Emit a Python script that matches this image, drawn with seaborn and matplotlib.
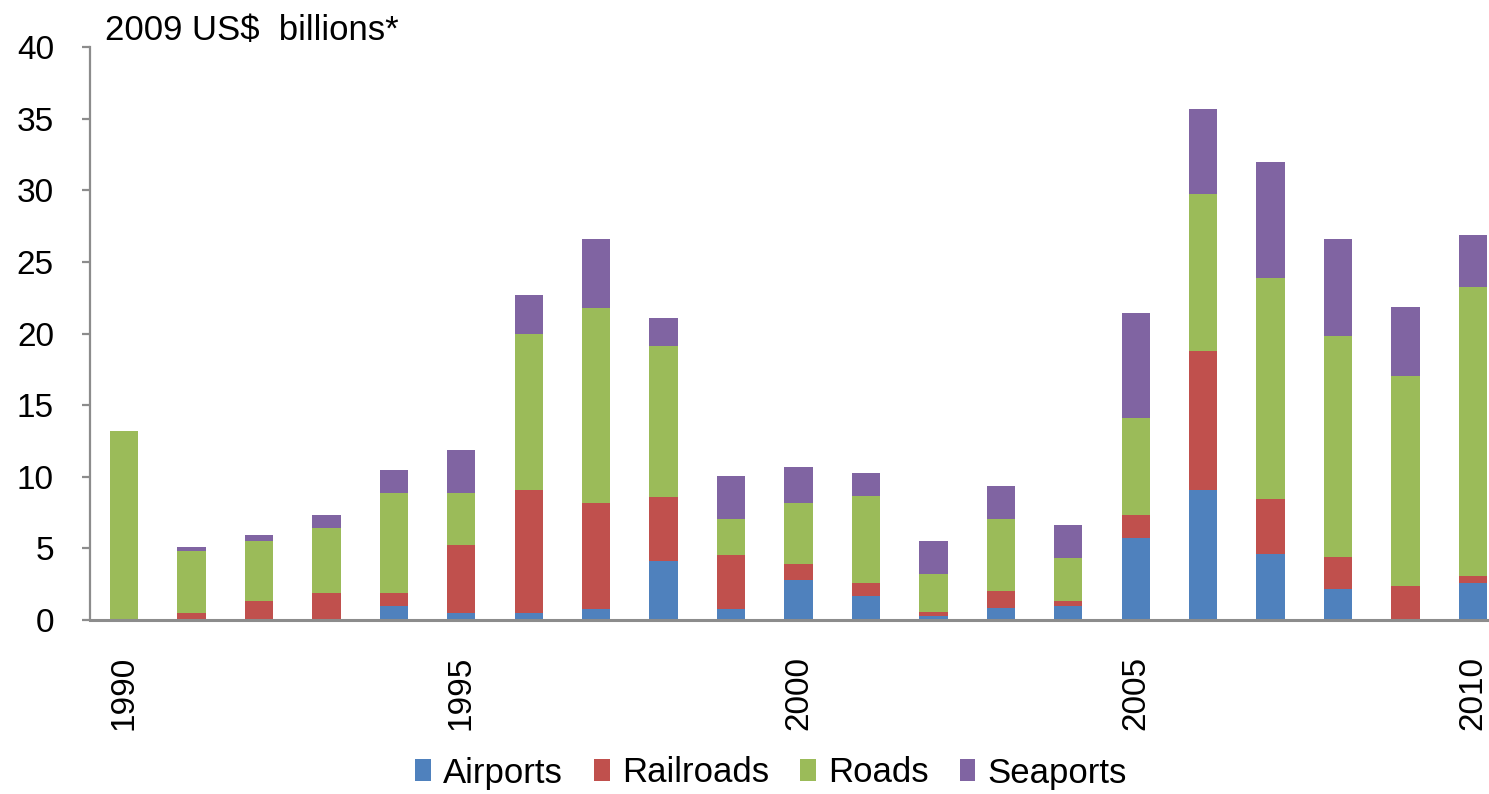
import numpy as np
import pandas as pd
import matplotlib.pyplot as plt
import seaborn as sns
from matplotlib.patches import Patch

# values (2009 US$ billions)
years = [str(y) for y in range(1990, 2011)]
airports = [0, 0, 0, 0, 1.0, 0.5, 0.5, 0.75, 4.1, 0.75, 2.8, 1.65, 0.3, 0.85, 0.95,
            5.7, 9.1, 4.6, 2.15, 0, 2.55]
railroads = [0, 0.5, 1.35, 1.85, 0.85, 4.75, 8.6, 7.45, 4.5, 3.8, 1.1, 0.9, 0.25, 1.2, 0.4,
             1.6, 9.7, 3.85, 2.25, 2.35, 0.5]
roads = [13.2, 4.3, 4.15, 4.55, 7.0, 3.65, 10.9, 13.6, 10.5, 2.5, 4.3, 6.1, 2.65, 5.0, 3.0,
         6.8, 10.95, 15.4, 15.4, 14.7, 20.2]
seaports = [0, 0.3, 0.45, 0.9, 1.65, 3.0, 2.7, 4.8, 2.0, 3.0, 2.5, 1.6, 2.3, 2.3, 2.3,
            7.3, 5.95, 8.15, 6.8, 4.8, 3.6]

series = ['Airports', 'Railroads', 'Roads', 'Seaports']
colors = ['#4F81BD', '#C0504D', '#9BBB59', '#8064A2']
tick_years = ['1990', '1995', '2000', '2005', '2010']

df = pd.DataFrame({'year': years, 'Airports': airports, 'Railroads': railroads,
                   'Roads': roads, 'Seaports': seaports})
# cumulative tops for the stacked look
cum = df[series].cumsum(axis=1)
cum['year'] = df['year']

sns.set_style("white")
plt.rcParams['font.family'] = ['Liberation Sans', 'DejaVu Sans']
plt.rcParams['text.color'] = 'black'

W, H = 1489, 794
fig = plt.figure(figsize=(W / 100, H / 100), dpi=100)
ax = fig.add_axes([90 / W, 1 - 620 / H, 1 - 90 / W, (620 - 47) / H])

# draw from the top layer down so each lower layer covers the one above
for name, color in reversed(list(zip(series, colors))):
    sns.barplot(data=cum, x='year', y=name, color=color, width=0.42,
                saturation=1, linewidth=0, ax=ax)

ax.set_ylim(0, 40)
ax.set_yticks(np.arange(0, 41, 5))
ax.set_xlim(-0.504, 20.237)
ax.set_xticks([years.index(y) for y in tick_years])
ax.set_xticklabels(tick_years, rotation=90)
ax.set_xlabel('')
ax.set_ylabel('')

spine_col = '#8c8c8c'
for s in ['top', 'right']:
    ax.spines[s].set_visible(False)
ax.spines['left'].set_color(spine_col)
ax.spines['left'].set_linewidth(1.6)
ax.spines['bottom'].set_color(spine_col)
ax.spines['bottom'].set_linewidth(2.2)

ax.tick_params(axis='y', which='major', left=True, length=6, width=1.6,
               color=spine_col, pad=20, labelsize=24, labelcolor='black')
ax.tick_params(axis='x', which='major', bottom=False, length=0, pad=26,
               labelsize=24, labelcolor='black')

fig.text(105 / W, 1 - 40 / H, '2009 US$  billions*', fontsize=25, color='black',
         va='baseline', ha='left')

handles = [Patch(facecolor=c, edgecolor='none') for c in colors]
leg = fig.legend(handles, series, loc='center', bbox_to_anchor=(771 / W, 1 - 773 / H),
                 ncol=4, frameon=False, fontsize=25, handlelength=0.45, handleheight=0.6,
                 handletextpad=0.35, columnspacing=0.9, borderaxespad=0)
for t in leg.get_texts():
    t.set_color('black')

fig.savefig('out.png', dpi=100)
